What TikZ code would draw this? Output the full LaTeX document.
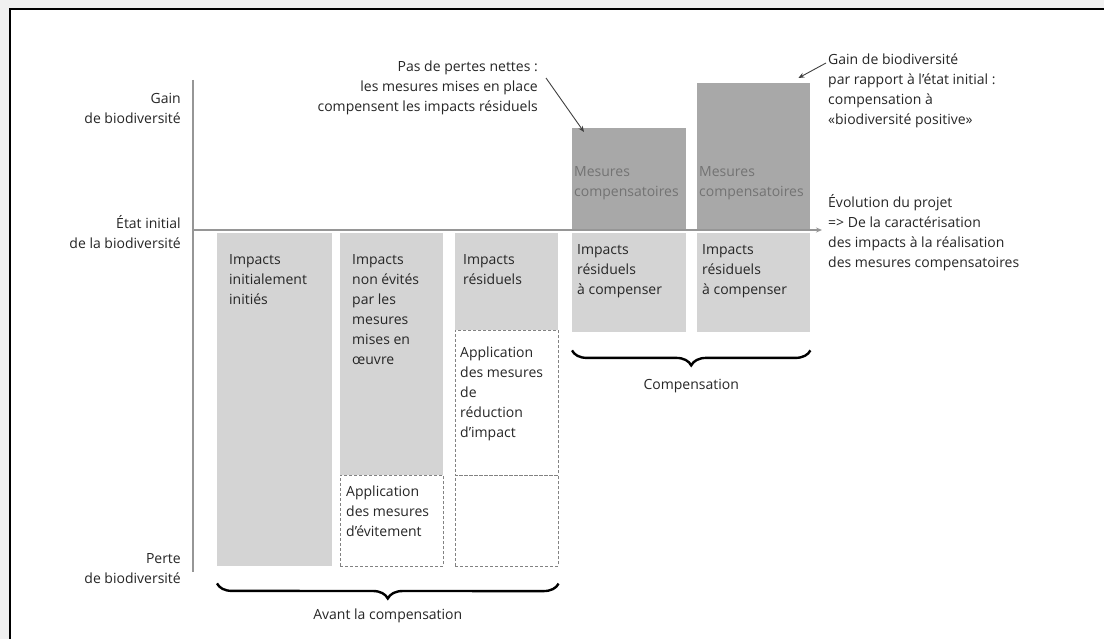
\documentclass[tikz,border=0pt]{standalone}
\usepackage{fontspec}
\setmainfont{Open Sans}
\usetikzlibrary{arrows.meta,decorations.pathreplacing,positioning}
\definecolor{framegray}{RGB}{240,240,240}
\definecolor{axisgray}{RGB}{150,150,150}
\definecolor{lossgray}{RGB}{212,212,212}
\definecolor{gaingray}{RGB}{168,168,168}
\definecolor{dashgray}{RGB}{130,130,130}
\newcommand{\barfont}{\fontsize{14}{20}\selectfont}
\tikzset{
  axis/.style={draw=axisgray,line width=2.4pt},
  bar/.style={fill=lossgray,inner sep=0pt,anchor=north west},
  gainbar/.style={bar,fill=gaingray},
  measure/.style={bar,fill=none,draw=dashgray,densely dashed,line width=0.6pt},
  bartext/.style={inner sep=0pt,align=left,font=\barfont,text=black!85},
  gaintext/.style={bartext,text=black!55},
  lab/.style={inner sep=0pt,font=\barfont,text=black!85},
  pointer/.style={-{Stealth[length=6pt,width=5pt]},line width=0.9pt,black!75},
  bracket/.style={decorate,decoration={brace,amplitude=15pt,mirror},line width=2.4pt},
}

\begin{document}
\begin{tikzpicture}[x=1pt,y=-1pt]
  \path[use as bounding box] (0,0) rectangle (1104,639);
  \fill[framegray] (0,0) rectangle (1104,639);
  \fill[white] (10,9) rectangle (1104,639);
  \draw[black,line width=2.5pt] (10,639) -- (10,9) -- (1104,9);

  % bars below the initial state
  \node[bar,minimum width=115pt,minimum height=333pt] (b1) at (217,233) {};
  \node[bar,minimum width=103pt,minimum height=242pt] (b2) at (340,233) {};
  \node[measure,minimum width=103pt,minimum height=91pt] (a2) at (340,475) {};
  \node[bar,minimum width=103pt,minimum height=97pt] (b3) at (455,233) {};
  \node[measure,minimum width=103pt,minimum height=145pt] (a3) at (455,330) {};
  \node[measure,minimum width=103pt,minimum height=91pt] (e3) at (455,475) {};
  \node[bar,minimum width=114pt,minimum height=99pt] (b4) at (572,233) {};
  \node[bar,minimum width=113pt,minimum height=99pt] (b5) at (697,233) {};
  % compensation above it
  \node[gainbar,minimum width=114pt,minimum height=102pt] (g4) at (572,128) {};
  \node[gainbar,minimum width=113pt,minimum height=147pt] (g5) at (697,83) {};

  \node[bartext,below right=21pt and 12pt of b1.north west] (t1)
    {Impacts\\initialement\\initiés};
  \node[bartext,below right=21pt and 12pt of b2.north west] (t2)
    {Impacts\\non évités\\par les\\mesures\\mises en\\œuvre};
  \node[bartext,below right=11pt and 6pt of a2.north west] (ta2)
    {Application\\des mesures\\d’évitement};
  \node[bartext,below right=21pt and 8pt of b3.north west] (t3)
    {Impacts\\résiduels};
  \node[bartext,below right=17pt and 5pt of a3.north west] (ta3)
    {Application\\des mesures\\de\\réduction\\d’impact};
  \node[bartext,below right=11pt and 5pt of b4.north west] (t4)
    {Impacts\\résiduels\\à compenser};
  \node[bartext,below right=11pt and 5pt of b5.north west] (t5)
    {Impacts\\résiduels\\à compenser};
  \node[gaintext,below right=38pt and 2pt of g4.north west] (tg4)
    {Mesures\\compensatoires};
  \node[gaintext,below right=83pt and 2pt of g5.north west] (tg5)
    {Mesures\\compensatoires};

  % axes
  \draw[axis] (193,80) -- (193,572);
  \draw[axis,-{Stealth[length=6pt,width=5pt]}] (193,230) -- (822,230);

  \node[lab,anchor=east,align=right] (gainlab) at (181,108)
    {Gain\\de biodiversité};
  \node[lab,anchor=east,align=right] (etatlab) at (181,232)
    {État initial\\de la biodiversité};
  \node[lab,anchor=east,align=right] (pertelab) at (181,569)
    {Perte\\de biodiversité};

  \node[lab,anchor=east,align=right] (pertes) at (538,88)
    {Pas de pertes nettes :\\les mesures mises en place\\compensent les impacts résiduels};
  \node[lab,anchor=west,align=left] (positive) at (828,91)
    {Gain de biodiversité\\par rapport à l’état initial :\\compensation à\\«biodiversité positive»};
  \node[lab,anchor=west,align=left] (evolution) at (828,233)
    {Évolution du projet\\=> De la caractérisation\\des impacts à la réalisation\\des mesures compensatoires};

  \coordinate (pertestip) at (546,78);
  \coordinate (positivetip) at (826,63);
  \draw[pointer] (pertestip) -- ([xshift=12pt,yshift=-4pt]g4.north west);
  \draw[pointer] (positivetip) -- ([xshift=-12pt,yshift=5pt]g5.north east);

  % braces
  \draw[bracket] ([yshift=-17pt]b1.south west) -- ([yshift=-17pt]e3.south east)
    node[midway,below=24pt,lab] (avant) {Avant la compensation};
  \draw[bracket] ([yshift=-18pt]b4.south west) -- ([yshift=-18pt]b5.south east)
    node[midway,below=28pt,lab] (comp) {Compensation};
\end{tikzpicture}
\end{document}
